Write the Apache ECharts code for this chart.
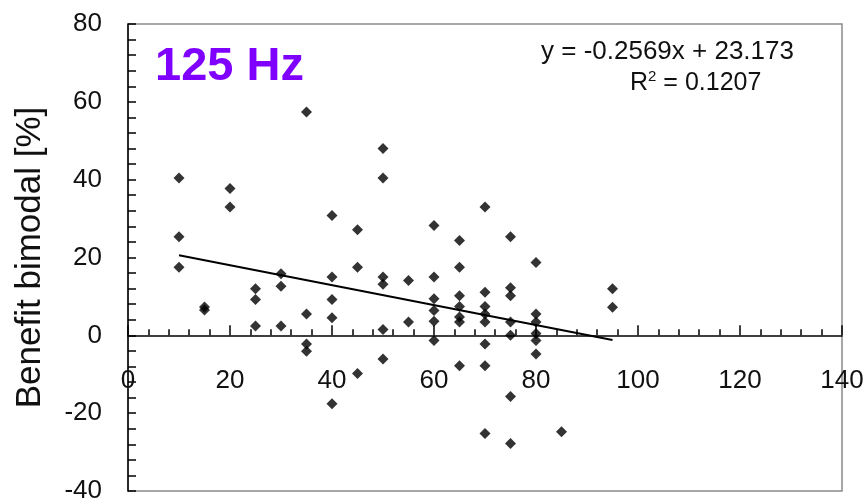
<!DOCTYPE html>
<html>
<head>
<meta charset="utf-8">
<script src="https://cdn.jsdelivr.net/npm/echarts@6/dist/echarts.min.js"></script>
<style>html,body{margin:0;padding:0;background:#fff}#c{width:867px;height:504px}</style>
</head>
<body>
<div id="c"></div>
<script>
const xVals = [10,10,10, 15,15, 20,20, 25,25,25, 30,30,30, 35,35,35,35, 40,40,40,40,40, 45,45,45,
  50,50,50,50,50,50, 55,55, 60,60,60,60,60,60, 65,65,65,65,65,65,65, 70,70,70,70,70,70,70,70,
  75,75,75,75,75,75,75, 80,80,80,80,80,80, 85, 95,95];
const yVals = [40.4,25.3,17.5, 7.3,6.5, 37.7,33.0, 12.0,9.2,2.4, 15.8,12.6,2.4, 57.4,5.5,-2.2,-4.1,
  30.8,15.0,9.2,4.5,-17.6, 27.1,17.5,-9.8, 48.0,40.4,15.0,13.1,1.5,-6.1, 14.1,3.4,
  28.2,15.0,9.4,6.4,3.6,-1.3, 24.4,17.5,10.2,7.4,4.7,3.4,-7.8, 33.0,11.1,7.4,5.5,3.4,-2.2,-7.8,-25.2,
  25.3,12.2,10.2,3.4,0,-15.7,-27.8, 18.7,5.5,3.4,0.5,-1.3,-4.8, -24.8, 12.0,7.2];
const trendX = [10, 95];
const trendY = [20.6, -1.2];
const titleText = '125 Hz';
const eqText = 'y = -0.2569x + 23.173';
const r2Text = '0.1207';
const yName = 'Benefit bimodal [%]';

const points = xVals.map((x, i) => [x, yVals[i]]);
const trend = trendX.map((x, i) => [x, trendY[i]]);
const FONT = '"Liberation Sans", Arial, sans-serif';

const GRID = {left: 128, top: 24, right: 25, bottom: 13};
const Y_MIN = -40, Y_MAX = 80;
const gridH = 504 - GRID.top - GRID.bottom;
const zeroOffset = -gridH * (0 - Y_MIN) / (Y_MAX - Y_MIN);

const chart = echarts.init(document.getElementById('c'), null, {renderer: 'canvas'});
chart.setOption({
  animation: false,
  backgroundColor: '#fff',
  grid: Object.assign({show: true, borderColor: '#8a8a8a', borderWidth: 1.5, containLabel: false, outerBoundsMode: 'none'}, GRID),
  xAxis: {
    type: 'value', min: 0, max: 140, interval: 20,
    position: 'bottom', offset: zeroOffset,
    axisLine: {onZero: false, lineStyle: {color: '#000', width: 1.5}},
    axisTick: {inside: true, length: 10, lineStyle: {color: '#000', width: 1.5}},
    minorTick: {show: true, splitNumber: 5, length: 6, lineStyle: {color: '#000', width: 1.5}},
    splitLine: {show: false},
    axisLabel: {fontSize: 26, fontFamily: FONT, color: '#111', margin: 32}
  },
  yAxis: {
    type: 'value', min: Y_MIN, max: Y_MAX, interval: 20,
    name: yName, nameLocation: 'middle', nameGap: 80,
    nameTextStyle: {fontSize: 35, fontFamily: FONT, color: '#111'},
    axisLine: {onZero: false, show: true, lineStyle: {color: '#000', width: 1.5}},
    axisTick: {inside: true, length: 8, lineStyle: {color: '#000', width: 1.5}},
    minorTick: {show: true, splitNumber: 5, length: 8, lineStyle: {color: '#000', width: 1.5}},
    splitLine: {show: false},
    axisLabel: {fontSize: 26, fontFamily: FONT, color: '#111', margin: 26}
  },
  series: [
    {type: 'line', data: trend, symbol: 'none', lineStyle: {color: '#000', width: 2}, z: 3},
    {type: 'scatter', data: points, symbol: 'diamond', symbolSize: 11, itemStyle: {color: '#000'}, z: 4}
  ],
  graphic: [
    {type: 'text', x: 155, y: 67, style: {text: titleText, font: 'bold 47px ' + FONT, fill: '#8000ff', verticalAlign: 'middle'}},
    {type: 'text', x: 541, y: 52, style: {text: eqText, font: '26px ' + FONT, fill: '#111', verticalAlign: 'middle'}},
    {type: 'text', x: 630, y: 83, style: {
      text: 'R{s|2} = ' + r2Text, font: '25px ' + FONT, fill: '#111', verticalAlign: 'middle',
      rich: {s: {fontSize: 15, fontFamily: FONT, verticalAlign: 'top', padding: [0,0,12,0]}}
    }}
  ]
});
</script>
</body>
</html>
